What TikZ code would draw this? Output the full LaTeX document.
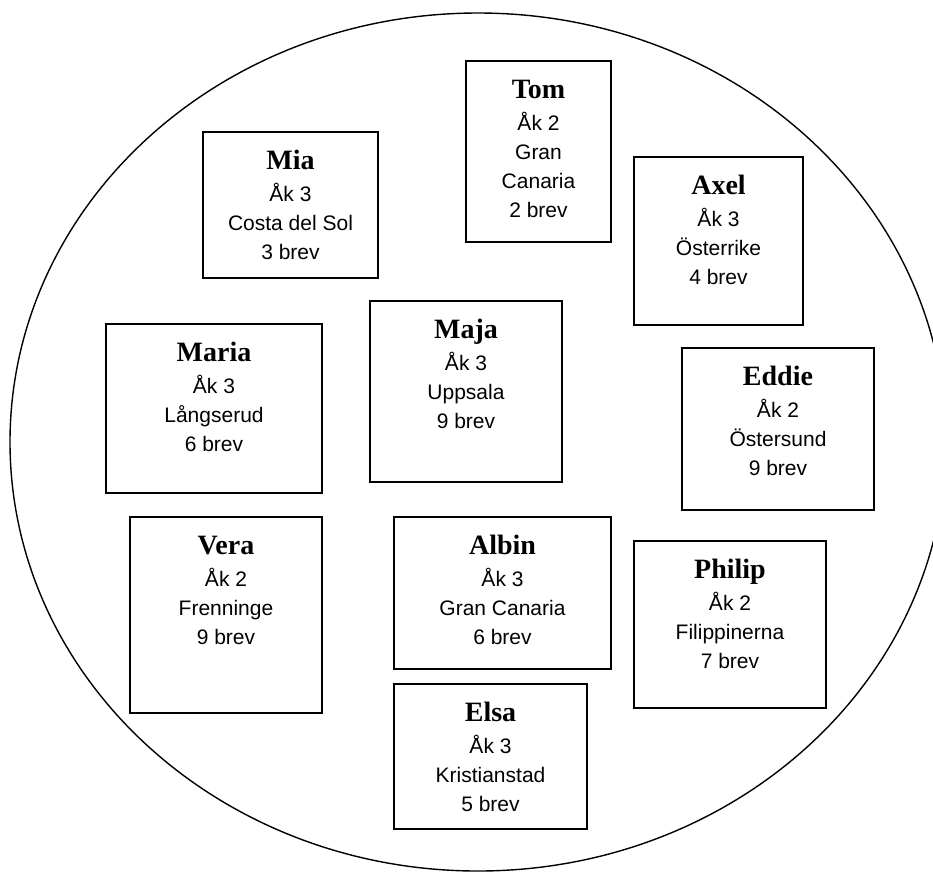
\documentclass[tikz,border=0pt]{standalone}
\usepackage{fontspec}
\setmainfont{Liberation Serif}
\setsansfont{Liberation Sans}
\usetikzlibrary{fit,calc,shapes.geometric}
\tikzset{
  card/.style={draw, line width=1.1pt, fill=white, inner sep=0pt},
  cardtitle/.style={anchor=base, inner sep=0pt, font=\bfseries\fontsize{16}{16}\selectfont},
  cardline/.style={anchor=base, inner sep=0pt, font=\sffamily\fontsize{12}{12}\selectfont},
  ring/.style={draw, line width=0.8pt},
}
% #1 name, #2 left, #3 top, #4 right, #5 bottom, #6 name in bold, #7 lines below it
\newcommand\elevkort[7]{%
  \node[card, fit={(#2,#3) (#4,#5)}] (#1) {};
  \node[cardtitle] (#1-namn) at ($(#1.north)+(0,38)$) {#6};
  \foreach \rad [count=\i] in {#7}
    \node[cardline] (#1-\i) at ($(#1.north)+(0,{70+(\i-1)*29.3})$) {\rad};
}
\begin{document}
\begin{tikzpicture}[x=0.5714pt, y=-0.5714pt]
\useasboundingbox (0,0) rectangle (933,872);
\clip (0,0) rectangle (933,872);
\node[ring, ellipse, minimum width=936*0.5714pt, minimum height=858*0.5714pt, inner sep=0pt] (klass) at (478,442) {};

\elevkort{mia}{203}{132}{378}{278}{Mia}{Åk 3, Costa del Sol, 3 brev}
\elevkort{tom}{466}{61}{611}{242}{Tom}{Åk 2, Gran, Canaria, 2 brev}
\elevkort{axel}{634}{157}{803}{325}{Axel}{Åk 3, Österrike, 4 brev}
\elevkort{maria}{106}{324}{322}{493}{Maria}{Åk 3, Långserud, 6 brev}
\elevkort{maja}{370}{301}{562}{482}{Maja}{Åk 3, Uppsala, 9 brev}
\elevkort{eddie}{682}{348}{874}{510}{Eddie}{Åk 2, Östersund, 9 brev}
\elevkort{vera}{130}{517}{322}{713}{Vera}{Åk 2, Frenninge, 9 brev}
\elevkort{albin}{394}{517}{611}{669}{Albin}{Åk 3, Gran Canaria, 6 brev}
\elevkort{philip}{634}{541}{826}{708}{Philip}{Åk 2, Filippinerna, 7 brev}
\elevkort{elsa}{394}{684}{587}{829}{Elsa}{Åk 3, Kristianstad, 5 brev}
\end{tikzpicture}
\end{document}
